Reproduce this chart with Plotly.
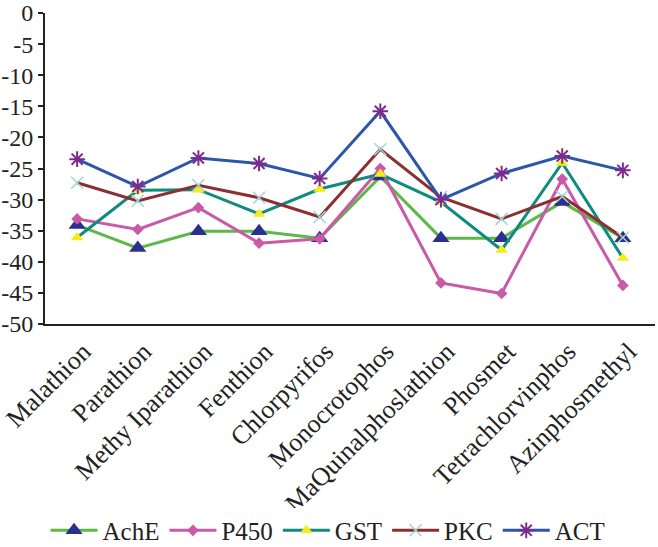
import plotly.graph_objects as go

categories = ["Malathion", "Parathion", "Methy Iparathion", "Fenthion", "Chlorpyrifos",
              "Monocrotophos", "MaQuinalphoslathion", "Phosmet", "Tetrachlorvinphos", "Azinphosmethyl"]

ache = [-34.1, -37.8, -35.1, -35.1, -36.2, -26.3, -36.2, -36.2, -30.4, -36.2]
p450 = [-33.1, -34.8, -31.3, -37.0, -36.3, -25.0, -43.4, -45.1, -26.7, -43.8]
gst = [-36.1, -28.5, -28.4, -32.3, -28.3, -25.9, -30.4, -38.1, -24.1, -39.4]
pkc = [-27.3, -30.2, -27.7, -29.7, -32.8, -21.9, -29.6, -33.1, -29.5, -36.1]
act = [-23.5, -27.9, -23.3, -24.2, -26.6, -15.8, -30.0, -25.8, -23.0, -25.3]

y_ticks = [0, -5, -10, -15, -20, -25, -30, -35, -40, -45, -50]

FONT = "Liberation Serif"

fig = go.Figure()
fig.add_trace(go.Scatter(x=categories, y=ache, name="AchE", mode="lines+markers",
                         line=dict(color="#5cb947", width=3),
                         marker=dict(symbol="triangle-up", size=15, color="#2b2f8f")))
fig.add_trace(go.Scatter(x=categories, y=p450, name="P450", mode="lines+markers",
                         line=dict(color="#c95aa8", width=3),
                         marker=dict(symbol="diamond", size=9, color="#c95aa8")))
fig.add_trace(go.Scatter(x=categories, y=gst, name="GST", mode="lines+markers",
                         line=dict(color="#0f8b80", width=3),
                         marker=dict(symbol="triangle-up", size=11, color="#f7ec1a")))
fig.add_trace(go.Scatter(x=categories, y=pkc, name="PKC", mode="lines+markers",
                         line=dict(color="#8c2f30", width=3),
                         marker=dict(symbol="x-thin-open", size=12, color="#9fd6d6",
                                     line=dict(color="#9fd6d6", width=1.5))))
fig.add_trace(go.Scatter(x=categories, y=act, name="ACT", mode="lines+markers",
                         line=dict(color="#2d56a8", width=3),
                         marker=dict(symbol="asterisk-open", size=13, color="#7d2a8e",
                                     line=dict(color="#7d2a8e", width=2))))

fig.update_layout(
    width=658, height=547,
    margin=dict(l=45, r=3, t=13, b=223),
    paper_bgcolor="white", plot_bgcolor="white",
    font=dict(family=FONT, size=26, color="#222"),
    showlegend=True,
    legend=dict(orientation="h", x=0.464, xanchor="center",
                yref="container", y=0.03, yanchor="middle",
                font=dict(family=FONT, size=25), itemwidth=47, tracegroupgap=0),
    xaxis=dict(type="category", range=[-0.53, 9.53], tickangle=-45,
               showline=True, linecolor="#222", linewidth=2, showgrid=False,
               ticks="", automargin=False, ticklabelshift=6,
               tickfont=dict(family=FONT, size=26)),
    yaxis=dict(range=[-50, 0], tickvals=y_ticks, ticktext=[str(v) for v in y_ticks],
               showline=True, linecolor="#222", linewidth=2, showgrid=False, zeroline=False,
               ticks="outside", ticklen=5, tickwidth=1.5, tickcolor="#222",
               ticklabeloverflow="allow",
               automargin=False, tickfont=dict(family=FONT, size=24)),
)

fig.write_html("out.html", config={"displayModeBar": False},
               post_script="document.body.style.margin='0';")
